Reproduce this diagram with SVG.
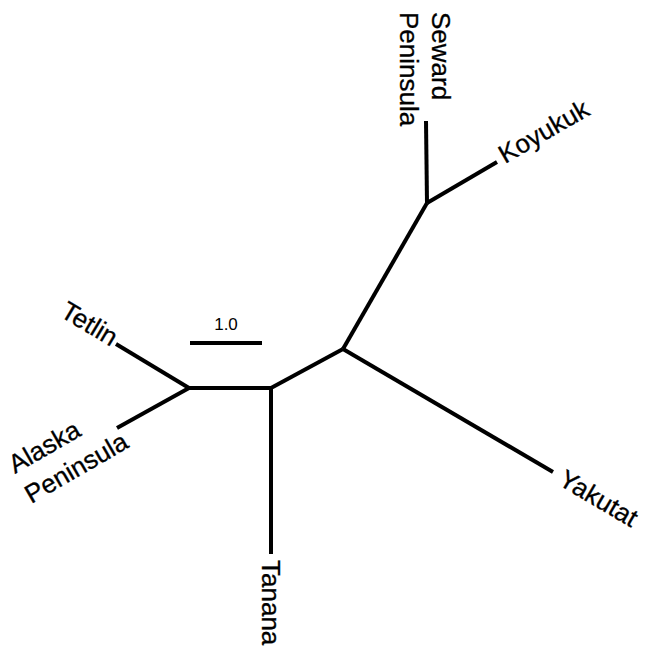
<svg xmlns="http://www.w3.org/2000/svg" width="645" height="649" viewBox="0 0 645 649">
<style>
.br{stroke:#000;stroke-width:4;fill:none;stroke-linecap:butt}
.lb{font-family:"Liberation Sans",Arial,sans-serif;font-size:26px;fill:#000;stroke:#000;stroke-width:0.3}
.sc{font-family:"Liberation Sans",Arial,sans-serif;font-size:17px;fill:#000}
</style>
<rect width="645" height="649" fill="#fff"/>
<g id="connectors">
<line class="br" x1="189" y1="388" x2="271" y2="388"/>
<line class="br" x1="271" y1="388" x2="343" y2="349"/>
<line class="br" x1="343" y1="349" x2="427" y2="203"/>
<line class="br" x1="189" y1="388" x2="116" y2="344"/>
<line class="br" x1="189" y1="388" x2="117" y2="428"/>
<line class="br" x1="271" y1="388" x2="271" y2="554"/>
<line class="br" x1="343" y1="349" x2="553" y2="472"/>
<line class="br" x1="427" y1="203" x2="426" y2="121"/>
<line class="br" x1="427" y1="203" x2="497" y2="162"/>
</g>
<g id="scale">
<line class="br" x1="190" y1="343" x2="262" y2="343"/>
<text class="sc" x="226" y="330" text-anchor="middle">1.0</text>
</g>
<g id="tetlin"><text class="lb" transform="translate(111,347) rotate(31)" text-anchor="end">Tetlin</text></g>
<g id="alaska-peninsula" transform="translate(15,474) rotate(-30)">
<text class="lb" x="0" y="0">Alaska</text>
<text class="lb" x="-1" y="34">Peninsula</text>
</g>
<g id="tanana"><text class="lb" transform="translate(262,560) rotate(90)">Tanana</text></g>
<g id="yakutat"><text class="lb" transform="translate(557,484) rotate(30.5)">Yakutat</text></g>
<g id="koyukuk"><text class="lb" transform="translate(505,164) rotate(-30)">Koyukuk</text></g>
<g id="seward-peninsula" transform="translate(432,12) rotate(90)">
<text class="lb" x="0" y="0">Seward</text>
<text class="lb" x="0" y="32">Peninsula</text>
</g>
</svg>
